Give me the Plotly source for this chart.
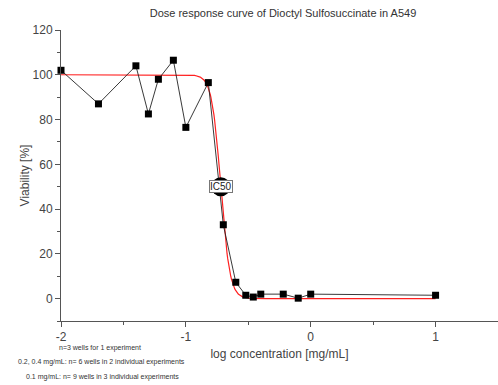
import numpy as np
import plotly.graph_objects as go

# Measured viability at each log10 concentration (mg/mL)
log_conc = [-2.0, -1.7, -1.4, -1.3, -1.22, -1.1, -1.0, -0.82, -0.7,
            -0.6, -0.52, -0.46, -0.4, -0.22, -0.1, 0.0, 1.0]
viability = [102, 87, 104, 82.5, 98, 106.5, 76.5, 96.5, 33,
             7.3, 1.5, 0.7, 2, 2, 0.2, 2, 1.5]

# Axis tick labels
x_tick_vals = [-2, -1, 0, 1]
x_tick_text = ["-2", "-1", "0", "1"]
y_tick_vals = [0, 20, 40, 60, 80, 100, 120]

# Four-parameter logistic fit
fit_top = 100.0
fit_bottom = 0.0
fit_log_ic50 = -0.72
fit_hill = 12.0

x_fit = np.linspace(-2, 1, 601)
y_fit = fit_bottom + (fit_top - fit_bottom) / (1 + 10 ** ((x_fit - fit_log_ic50) * fit_hill))

font_family = "Liberation Sans, Arial, sans-serif"
axis_color = "#555555"
text_color = "#444444"

fig = go.Figure()

fig.add_trace(go.Scatter(
    x=x_fit, y=y_fit, mode="lines",
    line=dict(color="#ff2020", width=1.2),
    hoverinfo="skip", showlegend=False,
))

fig.add_trace(go.Scatter(
    x=log_conc, y=viability, mode="lines+markers",
    line=dict(color="#222222", width=0.9),
    marker=dict(symbol="square", size=7, color="black"),
    cliponaxis=False, showlegend=False,
))

# IC50 marker
fig.add_trace(go.Scatter(
    x=[fit_log_ic50], y=[(fit_top + fit_bottom) / 2], mode="markers",
    marker=dict(symbol="circle", size=19, color="black"),
    showlegend=False,
))
fig.add_annotation(
    x=fit_log_ic50, y=(fit_top + fit_bottom) / 2, text="IC50", showarrow=False,
    font=dict(family=font_family, size=10, color="#222222"),
    bgcolor="white", bordercolor="#777777", borderwidth=1, borderpad=0,
)

fig.update_layout(
    width=498, height=385,
    margin=dict(l=61, r=0, t=30, b=64),
    paper_bgcolor="white", plot_bgcolor="white",
    font=dict(family=font_family, color=text_color),
    title=dict(
        text="Dose response curve of Dioctyl Sulfosuccinate in A549",
        x=283 / 498, xanchor="center", y=1 - 13 / 385, yanchor="middle",
        font=dict(size=11, color="#333333"),
    ),
    xaxis=dict(
        range=[-2, 1.5], tickvals=x_tick_vals, ticktext=x_tick_text,
        showgrid=False, zeroline=False,
        showline=True, linecolor=axis_color, linewidth=1,
        ticks="outside", ticklen=5, tickcolor=axis_color,
        minor=dict(dtick=0.5, tick0=-2, ticks="outside", ticklen=3, tickcolor=axis_color),
        tickfont=dict(size=12, color=text_color),
        title=dict(text="log concentration [mg/mL]", font=dict(size=12, color=text_color), standoff=6),
    ),
    yaxis=dict(
        range=[-10, 120], tickvals=y_tick_vals,
        showgrid=False, zeroline=False,
        showline=True, linecolor=axis_color, linewidth=1,
        ticks="outside", ticklen=5, tickcolor=axis_color,
        minor=dict(dtick=10, tick0=0, ticks="outside", ticklen=3, tickcolor=axis_color),
        tickfont=dict(size=12, color=text_color),
        title=dict(text="Viability [%]", font=dict(size=12, color=text_color), standoff=0),
    ),
)

notes = [
    ("n=3 wells for 1 experiment", 100, 348),
    ("0.2, 0.4 mg/mL: n= 6 wells in 2 individual experiments", 101, 362),
    ("0.1 mg/mL: n= 9 wells in 3 individual experiments", 102, 377),
]
for text, cx, cy in notes:
    fig.add_annotation(
        xref="paper", yref="paper",
        x=(cx - 61) / 437, y=(385 - 64 - cy) / 291,
        text=text, showarrow=False, xanchor="center", yanchor="middle",
        font=dict(size=7, color="#333333"),
    )

fig.write_html("out.html")
